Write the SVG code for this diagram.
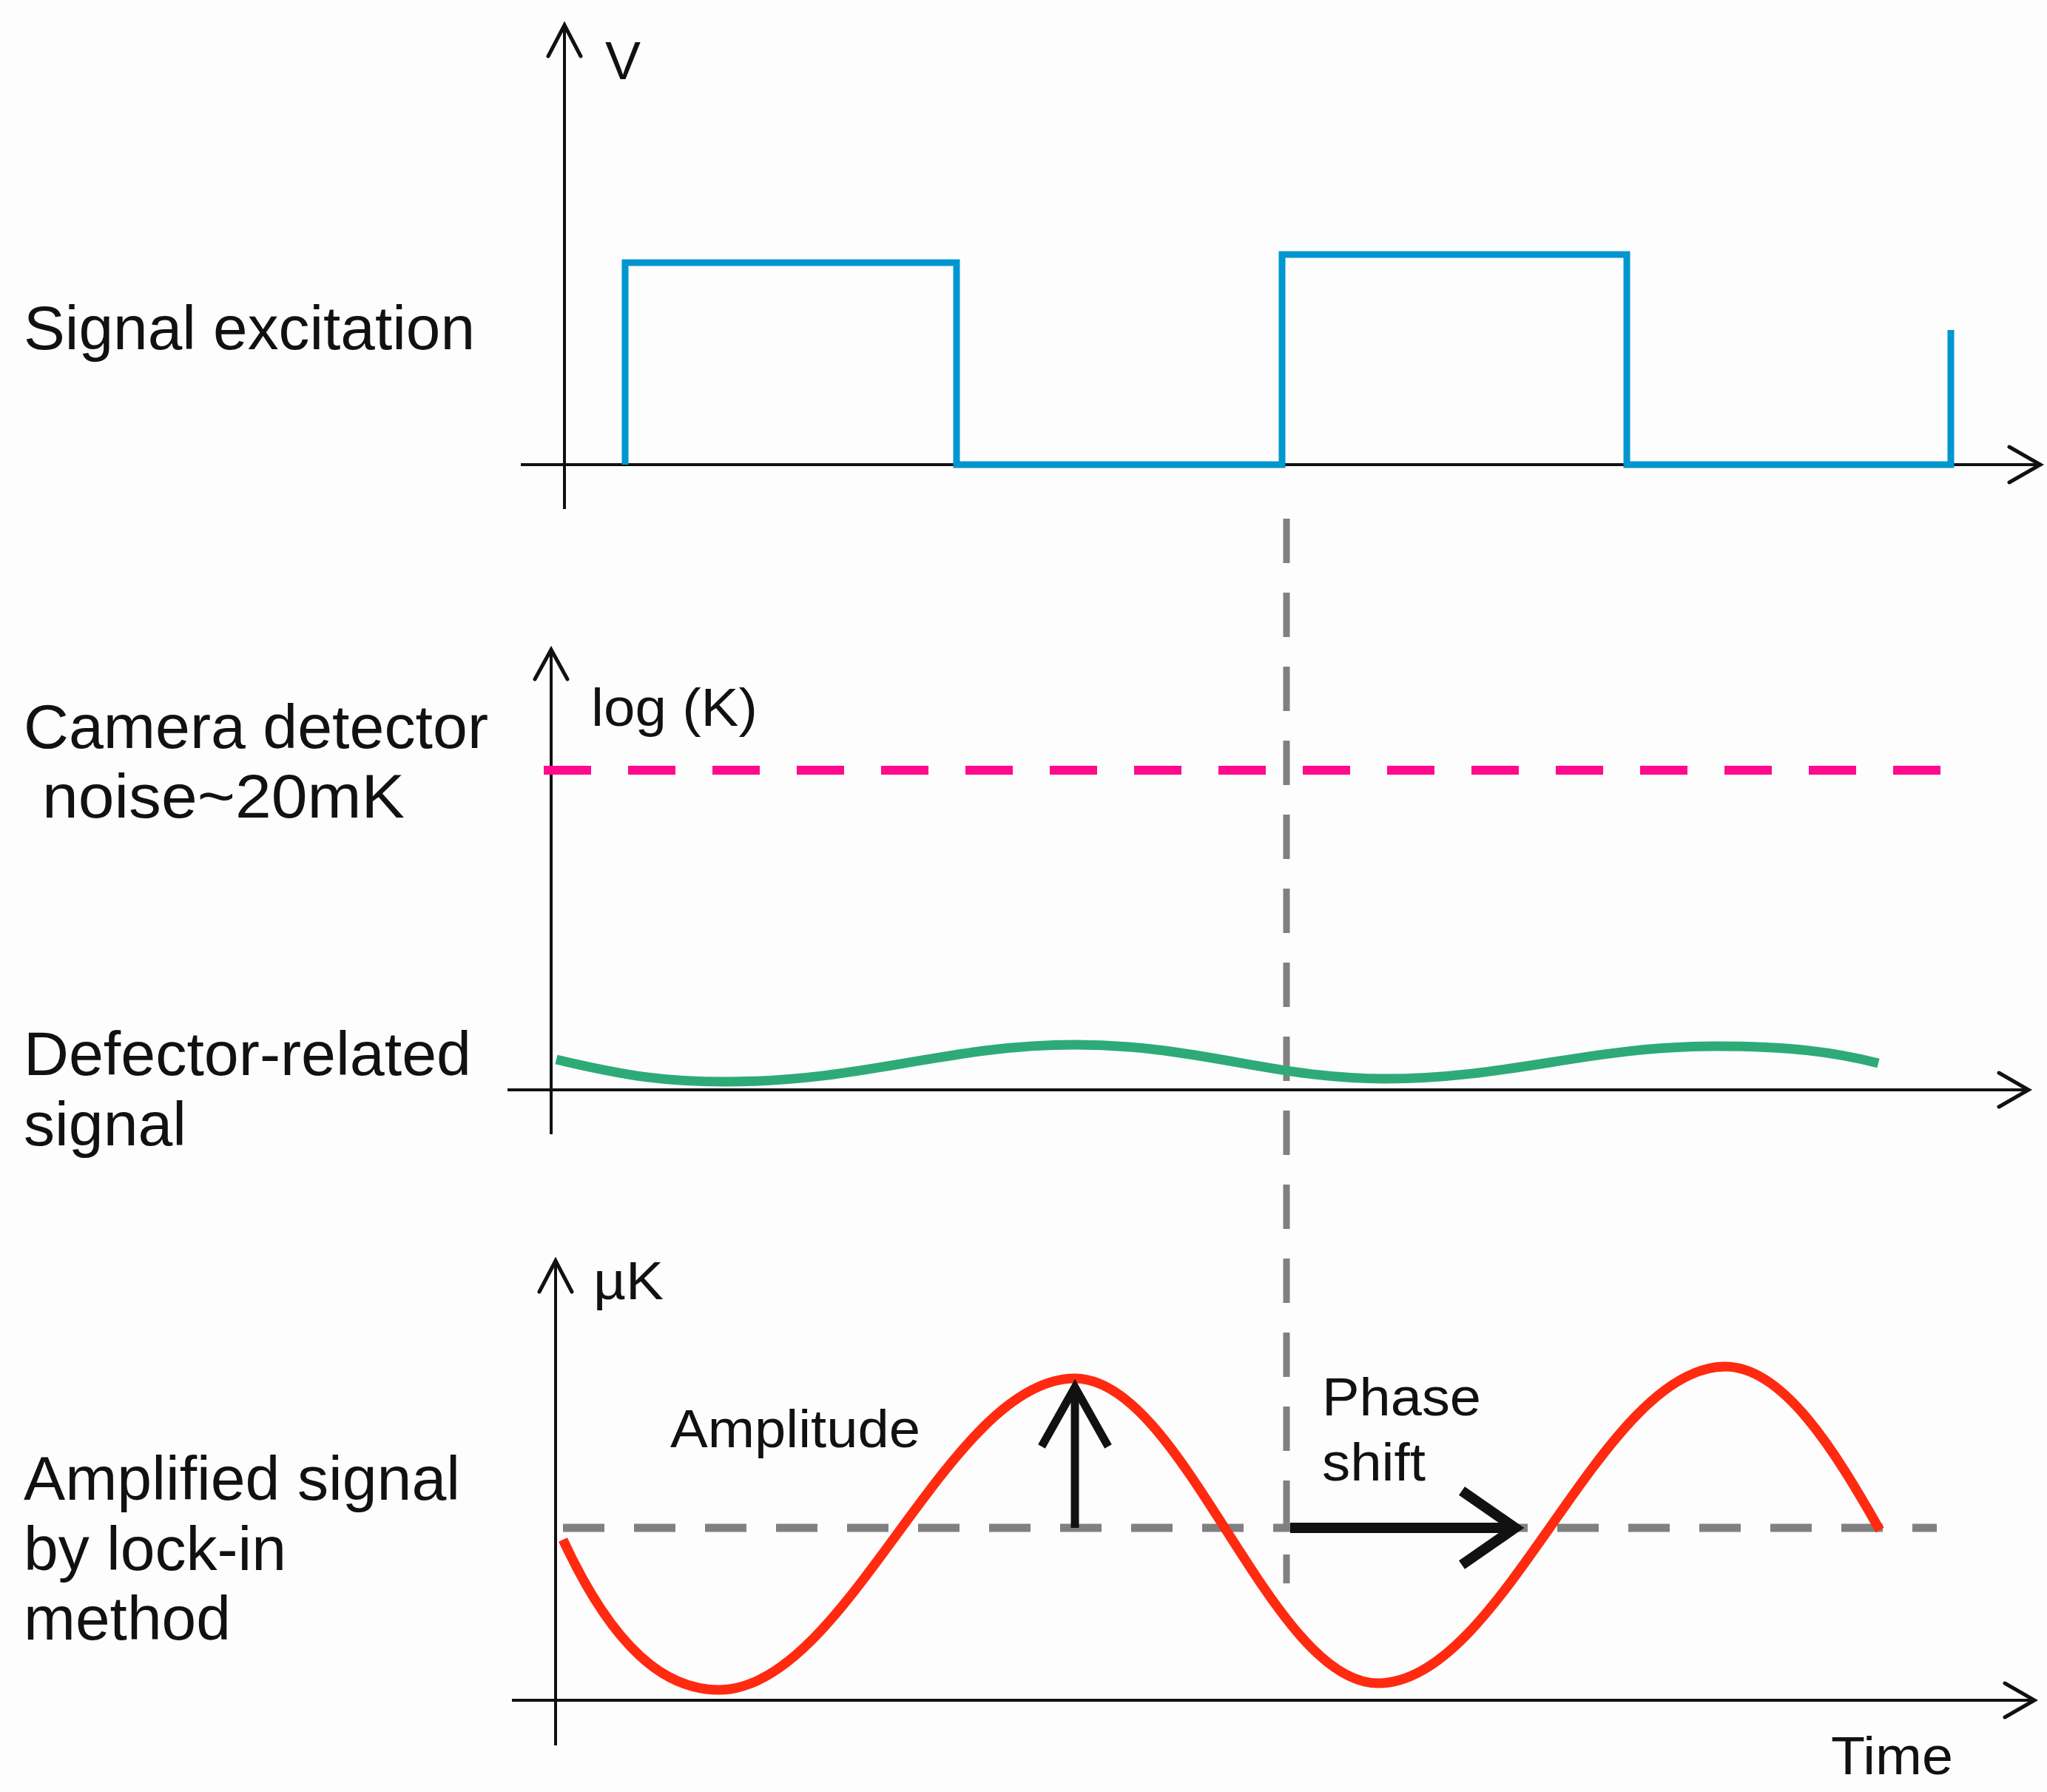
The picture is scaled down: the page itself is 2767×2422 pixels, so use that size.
<svg xmlns="http://www.w3.org/2000/svg" width="2767" height="2422" viewBox="0 0 2767 2422">
<style>
.t{font-family:"Liberation Sans",Arial,sans-serif;font-size:84px;fill:#111}
.s{font-family:"Liberation Sans",Arial,sans-serif;font-size:72px;fill:#111}
.ax{stroke:#111;stroke-width:4;fill:none}
.ah{stroke:#111;stroke-width:5;fill:none;stroke-linecap:round;stroke-linejoin:miter}
</style>
<rect width="2767" height="2422" fill="#fdfdfd"/>
<g id="connectors">
<line class="ax" x1="763" y1="36" x2="763" y2="688"/><path class="ah" d="M741,76 L763,34 L785,76"/>
<line class="ax" x1="704" y1="628" x2="2756" y2="628"/><path class="ah" d="M2716,604 L2758,628 L2716,652"/>
<line class="ax" x1="745" y1="880" x2="745" y2="1533"/><path class="ah" d="M723,918 L745,878 L767,918"/>
<line class="ax" x1="686" y1="1473" x2="2740" y2="1473"/><path class="ah" d="M2702,1450 L2742,1473 L2702,1496"/>
<line class="ax" x1="751" y1="1706" x2="751" y2="2359"/><path class="ah" d="M729,1746 L751,1704 L773,1746"/>
<line class="ax" x1="692" y1="2298" x2="2748" y2="2298"/><path class="ah" d="M2710,2275 L2750,2298 L2710,2321"/>
<line x1="1739" y1="701" x2="1739" y2="2140" stroke="#808080" stroke-width="9" stroke-dasharray="60,40"/>
<line x1="761" y1="2065" x2="2618" y2="2065" stroke="#808080" stroke-width="11" stroke-dasharray="56,40"/>
<line x1="735" y1="1041" x2="2639" y2="1041" stroke="#ff0a8c" stroke-width="12" stroke-dasharray="64,50"/>
</g>
<g id="square-wave"><path d="M845,628 V355 H1293 V628 H1733 V344 H2199 V628 H2637 V446" fill="none" stroke="#0096d0" stroke-width="9"/></g>
<g id="defect-signal"><path d="M752,1432 C850,1455 900,1462 981,1462 C1170,1462 1280,1412 1453,1412 C1620,1412 1720,1458 1872,1458 C2040,1458 2150,1414 2318,1414 C2420,1414 2480,1422 2539,1437" fill="none" stroke="#2eaa78" stroke-width="13"/></g>
<g id="lockin-signal"><path d="M761,2081 C830,2230 900,2284 972,2284 C1145,2284 1280,1863 1453,1863 C1600,1863 1716,2275 1863,2275 C2032,2275 2163,1847 2332,1847 C2410,1847 2480,1960 2541,2068" fill="none" stroke="#ff2a10" stroke-width="13"/></g>
<g id="amplitude-arrow"><line x1="1453" y1="2065" x2="1453" y2="1880" stroke="#111" stroke-width="11"/><path d="M1408,1955 L1453,1875 L1498,1955" fill="none" stroke="#111" stroke-width="11"/></g>
<g id="phase-arrow"><line x1="1744" y1="2065" x2="2040" y2="2065" stroke="#111" stroke-width="14"/><path d="M1976,2015 L2048,2065 L1976,2115" fill="none" stroke="#111" stroke-width="14"/></g>
<g id="labels">
<text class="s" x="818" y="107">V</text>
<text class="t" x="32" y="472" textLength="610" lengthAdjust="spacingAndGlyphs">Signal excitation</text>
<text class="s" x="799" y="981" textLength="225" lengthAdjust="spacingAndGlyphs">log (K)</text>
<text class="t" x="32" y="1011" textLength="628" lengthAdjust="spacingAndGlyphs">Camera detector</text>
<text class="t" x="57" y="1105" textLength="490" lengthAdjust="spacingAndGlyphs">noise~20mK</text>
<text class="t" x="32" y="1453" textLength="605" lengthAdjust="spacingAndGlyphs">Defector-related</text>
<text class="t" x="32" y="1548" textLength="220" lengthAdjust="spacingAndGlyphs">signal</text>
<text class="s" x="802" y="1756" textLength="95" lengthAdjust="spacingAndGlyphs">µK</text>
<text class="s" x="906" y="1956" textLength="338" lengthAdjust="spacingAndGlyphs">Amplitude</text>
<text class="s" x="1787" y="1913" textLength="215" lengthAdjust="spacingAndGlyphs">Phase</text>
<text class="s" x="1787" y="2001" textLength="140" lengthAdjust="spacingAndGlyphs">shift</text>
<text class="t" x="32" y="2027" textLength="590" lengthAdjust="spacingAndGlyphs">Amplified signal</text>
<text class="t" x="32" y="2122" textLength="355" lengthAdjust="spacingAndGlyphs">by lock-in</text>
<text class="t" x="32" y="2216" textLength="280" lengthAdjust="spacingAndGlyphs">method</text>
<text class="s" x="2475" y="2398" textLength="165" lengthAdjust="spacingAndGlyphs">Time</text>
</g>
</svg>
